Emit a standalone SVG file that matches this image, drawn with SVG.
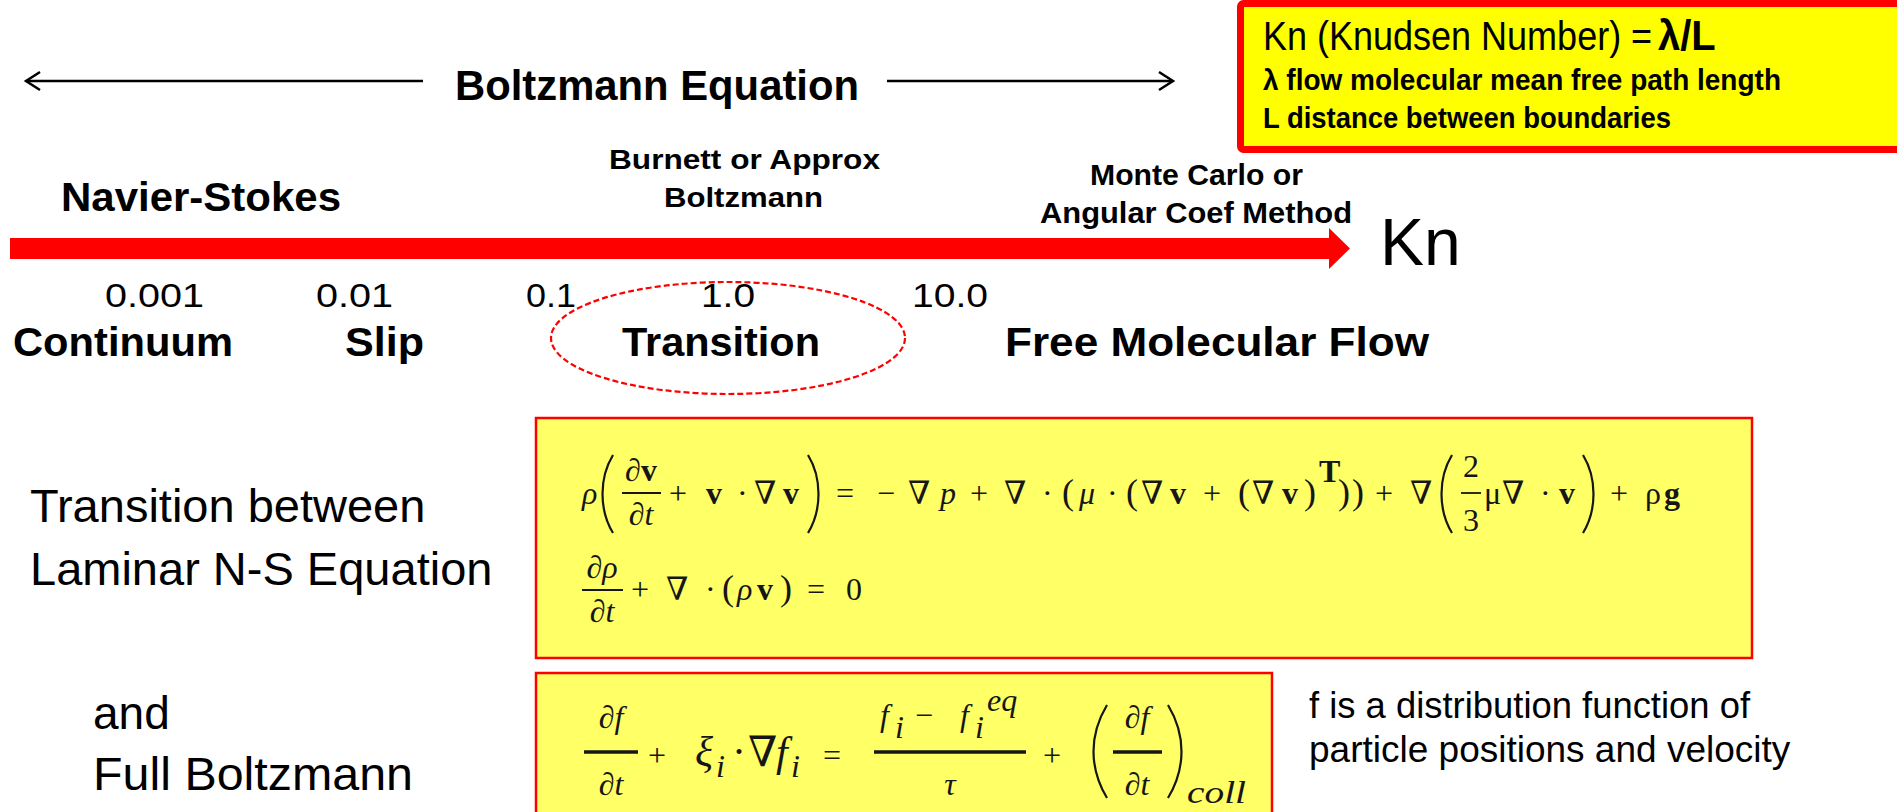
<svg xmlns="http://www.w3.org/2000/svg" width="1897" height="812" viewBox="0 0 1897 812">
<defs>
<style>
.sb{font-family:"Liberation Sans",Arial,sans-serif;font-weight:bold;fill:#000}
.sr{font-family:"Liberation Sans",Arial,sans-serif;fill:#000}
.m{font-family:"Liberation Serif","DejaVu Serif",serif;fill:#161616;font-size:32px}
.it{font-style:italic}
.bd{font-weight:bold}
.eqbox{fill:#FFFF66;stroke:#FF0000;stroke-width:2.5}
.bar{stroke:#161616;stroke-width:1.8}
.bar3{stroke:#161616;stroke-width:3.5}
.par{fill:none;stroke:#161616;stroke-width:2.2}
.bl{stroke:#000;stroke-width:2.5;fill:none}
</style>
</defs>
<rect x="0" y="0" width="1897" height="812" fill="#FFFFFF"/>

<g id="connectors">
  <line class="bl" x1="26" y1="81" x2="423" y2="81"/>
  <polyline class="bl" points="40,72 26,81 40,90"/>
  <line class="bl" x1="887" y1="81" x2="1173" y2="81"/>
  <polyline class="bl" points="1159,72 1173,81 1159,90"/>
  <rect x="10" y="238" width="1320" height="21" fill="#FF0000"/>
  <polygon points="1329,228 1350,248.5 1329,269" fill="#FF0000"/>
</g>

<g id="boltzmann-label">
  <text class="sb" x="455" y="100" font-size="42" textLength="404" lengthAdjust="spacingAndGlyphs">Boltzmann Equation</text>
</g>

<g id="kn-box">
  <rect x="1240.5" y="3.5" width="700" height="146" rx="3" fill="#FFFF00" stroke="#FF0000" stroke-width="7"/>
  <text class="sr" font-size="40" transform="translate(1263,50) scale(0.9,1)" x="0" y="0">Kn (Knudsen Number) =</text>
  <text class="sb" font-size="43" transform="translate(1658,50) scale(0.93,1)" x="0" y="0">λ/L</text>
  <text class="sb" x="1263" y="90" font-size="29" textLength="518" lengthAdjust="spacingAndGlyphs">λ flow molecular mean free path length</text>
  <text class="sb" x="1263" y="128" font-size="29" textLength="408" lengthAdjust="spacingAndGlyphs">L distance between boundaries</text>
</g>

<g id="navier-stokes">
  <text class="sb" x="61" y="211" font-size="40" textLength="280" lengthAdjust="spacingAndGlyphs">Navier-Stokes</text>
</g>
<g id="burnett">
  <text class="sb" x="609" y="169" font-size="27" textLength="271" lengthAdjust="spacingAndGlyphs">Burnett or Approx</text>
  <text class="sb" x="664" y="207" font-size="27" textLength="159" lengthAdjust="spacingAndGlyphs">Boltzmann</text>
</g>
<g id="monte-carlo">
  <text class="sb" x="1090" y="185" font-size="29" textLength="213" lengthAdjust="spacingAndGlyphs">Monte Carlo or</text>
  <text class="sb" x="1040" y="223" font-size="29" textLength="312" lengthAdjust="spacingAndGlyphs">Angular Coef Method</text>
</g>
<g id="kn-axis-label">
  <text class="sr" x="1380" y="265" font-size="66">Kn</text>
</g>

<g id="scale-values">
  <text class="sr" x="105" y="307" font-size="33" textLength="99" lengthAdjust="spacingAndGlyphs">0.001</text>
  <text class="sr" x="316" y="307" font-size="33" textLength="77" lengthAdjust="spacingAndGlyphs">0.01</text>
  <text class="sr" x="526" y="307" font-size="33" textLength="50" lengthAdjust="spacingAndGlyphs">0.1</text>
  <text class="sr" x="701" y="307" font-size="33" textLength="54" lengthAdjust="spacingAndGlyphs">1.0</text>
  <text class="sr" x="912" y="307" font-size="33" textLength="76" lengthAdjust="spacingAndGlyphs">10.0</text>
</g>

<g id="regimes">
  <text class="sb" x="13" y="356" font-size="41" textLength="220" lengthAdjust="spacingAndGlyphs">Continuum</text>
  <text class="sb" x="345" y="356" font-size="41" textLength="79" lengthAdjust="spacingAndGlyphs">Slip</text>
  <text class="sb" x="622" y="356" font-size="41" textLength="198" lengthAdjust="spacingAndGlyphs">Transition</text>
  <text class="sb" x="1005" y="356" font-size="41" textLength="424" lengthAdjust="spacingAndGlyphs">Free Molecular Flow</text>
</g>

<g id="transition-highlight">
  <ellipse cx="728" cy="338" rx="177" ry="56" fill="none" stroke="#FF0000" stroke-width="2.2" stroke-dasharray="6,3"/>
</g>

<g id="left-labels">
  <text class="sr" x="30" y="522" font-size="47">Transition between</text>
  <text class="sr" x="30" y="585" font-size="47">Laminar N-S Equation</text>
  <text class="sr" x="93" y="729" font-size="46">and</text>
  <text class="sr" x="93" y="790" font-size="46" textLength="320" lengthAdjust="spacingAndGlyphs">Full Boltzmann</text>
</g>

<g id="ns-equations">
  <rect class="eqbox" x="536" y="418" width="1216" height="240"/>
  <text class="m" y="504">
    <tspan class="it" x="582">ρ</tspan>
    <tspan x="669">+</tspan>
    <tspan class="bd" x="706">v</tspan>
    <tspan x="737">·</tspan>
    <tspan x="754">∇</tspan>
    <tspan class="bd" x="783">v</tspan>
    <tspan x="836">=</tspan>
    <tspan x="877">−</tspan>
    <tspan x="908">∇</tspan>
    <tspan class="it" x="940">p</tspan>
    <tspan x="970">+</tspan>
    <tspan x="1004">∇</tspan>
    <tspan x="1042">·</tspan>
    <tspan x="1062" font-size="36">(</tspan>
    <tspan class="it" x="1079">μ</tspan>
    <tspan x="1107">·</tspan>
    <tspan x="1126" font-size="36">(</tspan>
    <tspan x="1141">∇</tspan>
    <tspan class="bd" x="1170">v</tspan>
    <tspan x="1203">+</tspan>
    <tspan x="1238" font-size="36">(</tspan>
    <tspan x="1252">∇</tspan>
    <tspan class="bd" x="1282">v</tspan>
    <tspan x="1304" font-size="36">)</tspan>
    <tspan x="1338" font-size="36">)</tspan>
    <tspan x="1352" font-size="36">)</tspan>
    <tspan x="1375">+</tspan>
    <tspan x="1410">∇</tspan>
    <tspan x="1484">μ</tspan>
    <tspan x="1502">∇</tspan>
    <tspan x="1540">·</tspan>
    <tspan class="bd" x="1559">v</tspan>
    <tspan x="1610">+</tspan>
    <tspan x="1645">ρ</tspan>
    <tspan class="bd" x="1664">g</tspan>
  </text>
  <text class="m bd" x="1319" y="482" font-size="19">T</text>
  <path class="par" d="M613,455 C599,478 599,510 613,533"/>
  <path class="par" d="M808,455 C822,478 822,510 808,533"/>
  <text class="m" x="641" y="481" text-anchor="middle"><tspan class="it">∂</tspan><tspan class="bd">v</tspan></text>
  <line class="bar" x1="622" y1="493" x2="661" y2="493"/>
  <text class="m it" x="641" y="525" text-anchor="middle">∂t</text>
  <path class="par" d="M1452,455 C1438,478 1438,510 1452,533"/>
  <path class="par" d="M1583,455 C1597,478 1597,510 1583,533"/>
  <text class="m" x="1471" y="477" text-anchor="middle" font-size="30">2</text>
  <line class="bar" x1="1461" y1="493" x2="1481" y2="493"/>
  <text class="m" x="1471" y="531" text-anchor="middle" font-size="30">3</text>

  <text class="m" y="600">
    <tspan x="631">+</tspan>
    <tspan x="666">∇</tspan>
    <tspan x="705">·</tspan>
    <tspan x="722" font-size="36">(</tspan>
    <tspan class="it" x="737">ρ</tspan>
    <tspan class="bd" x="757">v</tspan>
    <tspan x="780" font-size="36">)</tspan>
    <tspan x="807">=</tspan>
    <tspan x="846">0</tspan>
  </text>
  <text class="m it" x="602" y="578" text-anchor="middle">∂ρ</text>
  <line class="bar" x1="582" y1="590" x2="623" y2="590"/>
  <text class="m it" x="602" y="622" text-anchor="middle">∂t</text>
</g>

<g id="boltzmann-equation">
  <rect class="eqbox" x="536" y="673" width="736" height="160"/>
  <text class="m it" x="611" y="728" font-size="42" text-anchor="middle">∂f</text>
  <line class="bar3" x1="584" y1="752" x2="638" y2="752"/>
  <text class="m it" x="611" y="795" font-size="42" text-anchor="middle">∂t</text>
  <text class="m" y="766" font-size="46">
    <tspan x="648">+</tspan>
    <tspan class="it" x="695" font-size="42">ξ</tspan>
    <tspan x="732" font-size="42">·</tspan>
    <tspan x="748" font-size="42">∇</tspan>
    <tspan class="it" x="776" font-size="42">f</tspan>
    <tspan x="823">=</tspan>
    <tspan x="1043">+</tspan>
  </text>
  <text class="m it" x="716" y="777" font-size="24">i</text>
  <text class="m it" x="791" y="777" font-size="24">i</text>
  <text class="m" y="726" font-size="42">
    <tspan class="it" x="880">f</tspan>
    <tspan x="915">−</tspan>
    <tspan class="it" x="960">f</tspan>
  </text>
  <text class="m it" x="895" y="738" font-size="24">i</text>
  <text class="m it" x="975" y="738" font-size="24">i</text>
  <text class="m it" x="987" y="711" font-size="24">eq</text>
  <line class="bar3" x1="874" y1="752" x2="1026" y2="752"/>
  <text class="m it" x="950" y="795" font-size="42" text-anchor="middle">τ</text>
  <path class="par" d="M1107,705 C1089,735 1089,768 1107,798"/>
  <text class="m it" x="1137" y="728" font-size="42" text-anchor="middle">∂f</text>
  <line class="bar3" x1="1113" y1="752" x2="1162" y2="752"/>
  <text class="m it" x="1137" y="795" font-size="42" text-anchor="middle">∂t</text>
  <path class="par" d="M1168,705 C1186,735 1186,768 1168,798"/>
  <text class="m it" x="1187" y="803" font-size="26" textLength="59" lengthAdjust="spacingAndGlyphs">coll</text>
</g>

<g id="distribution-note">
  <text class="sr" x="1309" y="718" font-size="37" textLength="441" lengthAdjust="spacingAndGlyphs">f is a distribution function of</text>
  <text class="sr" x="1309" y="762" font-size="37">particle positions and velocity</text>
</g>
</svg>
